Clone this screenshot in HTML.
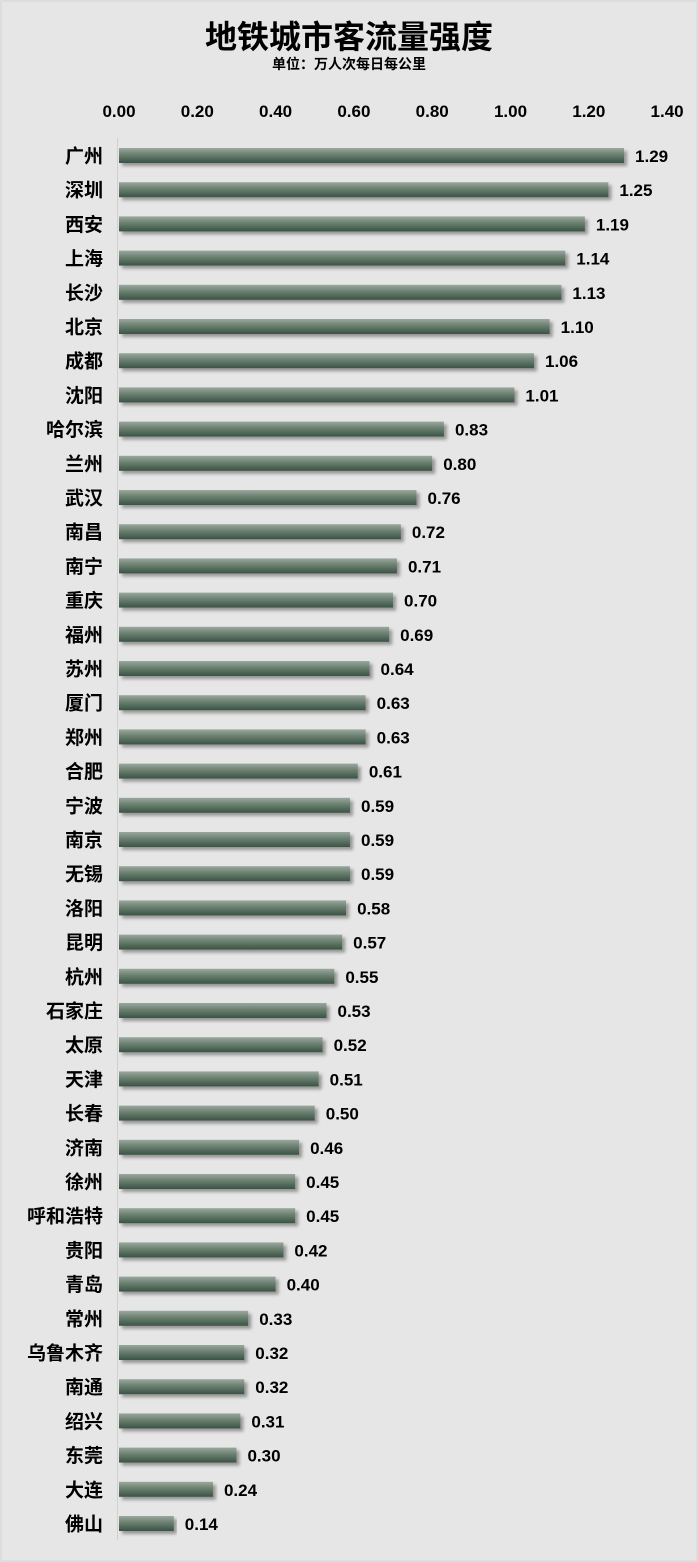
<!DOCTYPE html>
<html><head><meta charset="utf-8"><style>
body{margin:0;background:#e6e6e6;}
svg{display:block;font-family:"Liberation Sans","Noto Sans CJK SC",sans-serif;font-weight:bold;}
</style></head><body>
<svg width="698" height="1562" viewBox="0 0 698 1562">
<defs>
<linearGradient id="g" x1="0" y1="0" x2="0" y2="1">
<stop offset="0" stop-color="#9aa89d"/><stop offset="0.45" stop-color="#6a7f70"/><stop offset="1" stop-color="#3a5344"/>
</linearGradient>
<filter id="s" x="-5%" y="-50%" width="110%" height="250%"><feDropShadow dx="3" dy="3" stdDeviation="1.5" flood-color="#000" flood-opacity="0.35"/></filter>
</defs>
<rect x="0" y="0" width="698" height="1562" fill="#e6e6e6"/>
<rect x="1" y="1" width="696" height="1560" fill="none" stroke="#d4d4d4"/>
<text x="349" y="48" font-size="32" text-anchor="middle" fill="#000">地铁城市客流量强度</text>
<text x="349" y="69" font-size="14" text-anchor="middle" fill="#000">单位：万人次每日每公里</text>
<g font-size="17" fill="#000" text-anchor="middle" id="ticks"></g>
<line x1="117.5" y1="138" x2="117.5" y2="1540" stroke="#d0d0d0" stroke-width="1"/>
<g id="bars"></g>
</svg>
<script>
var d=[["广州",1.29],["深圳",1.25],["西安",1.19],["上海",1.14],["长沙",1.13],["北京",1.10],["成都",1.06],["沈阳",1.01],["哈尔滨",0.83],["兰州",0.80],["武汉",0.76],["南昌",0.72],["南宁",0.71],["重庆",0.70],["福州",0.69],["苏州",0.64],["厦门",0.63],["郑州",0.63],["合肥",0.61],["宁波",0.59],["南京",0.59],["无锡",0.59],["洛阳",0.58],["昆明",0.57],["杭州",0.55],["石家庄",0.53],["太原",0.52],["天津",0.51],["长春",0.50],["济南",0.46],["徐州",0.45],["呼和浩特",0.45],["贵阳",0.42],["青岛",0.40],["常州",0.33],["乌鲁木齐",0.32],["南通",0.32],["绍兴",0.31],["东莞",0.30],["大连",0.24],["佛山",0.14]];
var NS="http://www.w3.org/2000/svg",x0=119,k=391.5;
function el(t,a,txt){var e=document.createElementNS(NS,t);for(var i in a)e.setAttribute(i,a[i]);if(txt!=null)e.textContent=txt;return e;}
var tg=document.getElementById("ticks");
for(var i=0;i<=7;i++)tg.appendChild(el("text",{x:x0+i*0.2*k,y:117},(i*0.2).toFixed(2)));
var bg=document.getElementById("bars");
var n=d.length,step=(1523-155)/(n-1);
d.forEach(function(r,i){var cy=155.5+i*step,w=r[1]*k;
bg.appendChild(el("rect",{x:x0,y:cy-7.5,width:w,height:15,fill:"url(#g)",filter:"url(#s)"}));
bg.appendChild(el("text",{x:103,y:cy+7,"font-size":19,"text-anchor":"end"},r[0]));
bg.appendChild(el("text",{x:x0+w+11,y:cy+6.5,"font-size":17},r[1].toFixed(2)));
});
</script>
</body></html>
